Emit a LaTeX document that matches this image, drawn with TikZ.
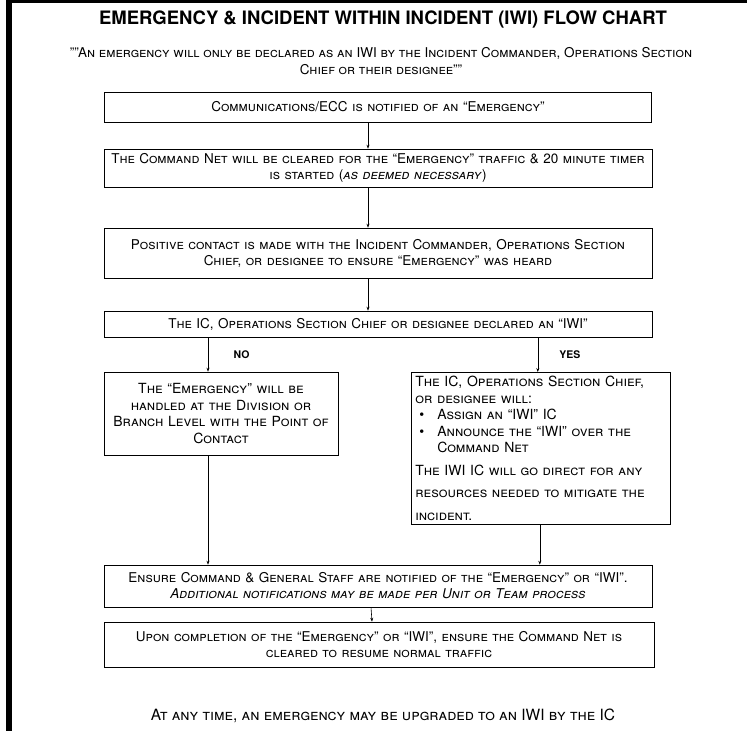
\documentclass[tikz,border=0pt]{standalone}
\usepackage{fontspec}
\setmainfont{TeX Gyre Heros}
\usetikzlibrary{arrows.meta}

\newcommand\boxfont{\fontsize{13.5}{16}\selectfont\scshape}
\newcommand\branchfont{\fontsize{14}{16.5}\selectfont\scshape}
\newcommand\bulletitem{\makebox[22pt][l]{\hspace*{4pt}\textbullet}}

\tikzset{
  stepbox/.style={draw, line width=0.6pt, inner sep=2pt, align=center, font=\boxfont},
  flow/.style={-{Stealth[length=4pt,width=3pt]}, line width=0.6pt},
  answer/.style={font=\fontsize{10.5}{12}\selectfont\bfseries},
}

\begin{document}
\begin{tikzpicture}[x=1pt,y=-1pt]
    \useasboundingbox (0,0) rectangle (756,731);
    % frame of the scanned page
    \fill (6,0) rectangle (12,731);
    \fill (6,0) rectangle (747,3);
    % heading
    \node[font=\fontsize{18.5}{21}\selectfont\bfseries] (title) at (383,19) {EMERGENCY \& INCIDENT WITHIN INCIDENT (IWI) FLOW CHART};
    \node[align=center, font=\fontsize{13.5}{17}\selectfont\scshape] (remark) at (381,61) {""An emergency will only be declared as an IWI by the Incident Commander, Operations Section\\ Chief or their designee""};
    % main column
    \node[stepbox, minimum width=547, text width=543, minimum height=30] (notify) at (378,107) {Communications/ECC is notified of an ``Emergency''};
    \node[stepbox, minimum width=548, text width=544, minimum height=38] (clear) at (378,168) {The Command Net will be cleared for the ``Emergency'' traffic \& 20 minute timer\\ is started (\textit{as deemed necessary})};
    \node[stepbox, minimum width=548, text width=544, minimum height=50] (contact) at (378,253) {Positive contact is made with the Incident Commander, Operations Section\\ Chief, or designee to ensure ``Emergency'' was heard};
    \node[stepbox, minimum width=548, text width=544, minimum height=26] (declare) at (378,324) {The IC, Operations Section Chief or designee declared an ``IWI''};
    % the two branches
    \node[stepbox, font=\branchfont, minimum width=234, text width=228, minimum height=83] (nobox) at (221,413.5) {The ``Emergency'' will be\\ handled at the Division or\\ Branch Level with the Point of\\ Contact};
    \node[stepbox, font=\branchfont, anchor=north west, align=left, minimum width=259, text width=251, inner sep=4pt] (yesbox) at (411,372) {The IC, Operations Section Chief,\\
      or designee will:\\
      \bulletitem Assign an ``IWI'' IC\\
      \bulletitem Announce the ``IWI'' over the\\
      \hspace*{22pt}Command Net\\[6pt]
      The IWI IC will go direct for any\\[6pt]
      resources needed to mitigate the\\[6pt]
      incident.};
    % closing steps
    \node[stepbox, minimum width=548, text width=544, minimum height=42] (ensure) at (378,586) {Ensure Command \& General Staff are notified of the ``Emergency'' or ``IWI''.\\ \textit{Additional notifications may be made per Unit or Team process}};
    \node[stepbox, minimum width=550, text width=546, minimum height=45] (normal) at (379,644.5) {Upon completion of the ``Emergency'' or ``IWI'', ensure the Command Net is\\ cleared to resume normal traffic};
    \node[font=\fontsize{15.5}{18}\selectfont\scshape] (upgrade) at (383,716) {At any time, an emergency may be upgraded to an IWI by the IC};
    % connectors
    \draw[flow] ([xshift=-10pt]notify.south) -- ([xshift=-10pt]clear.north);
    \draw[flow] ([xshift=-10pt]clear.south) -- ([xshift=-10pt]contact.north);
    \draw[flow] ([xshift=-10pt]contact.south) -- ([xshift=-10pt]declare.north);
    \draw[flow] ([xshift=-13pt]nobox.north |- declare.south) -- ([xshift=-13pt]nobox.north)
        node[answer, midway, right=22pt] {NO};
    \draw[flow] ([xshift=-3pt]yesbox.north |- declare.south) -- ([xshift=-3pt]yesbox.north)
        node[answer, midway, right=18pt] {YES};
    \draw[flow] ([xshift=-13pt]nobox.south) -- ([xshift=-13pt]nobox.south |- ensure.north);
    \draw[flow] ([xshift=-1pt]yesbox.south) -- ([xshift=-1pt]yesbox.south |- ensure.north);
    \draw[flow] ([xshift=-7pt]ensure.south) -- ([xshift=-7pt]normal.north);
\end{tikzpicture}
\end{document}
